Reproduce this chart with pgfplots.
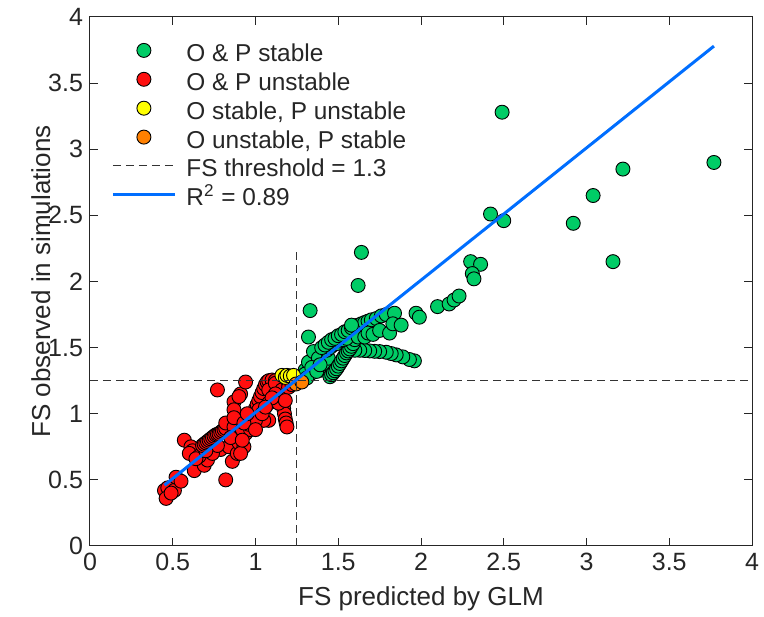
\documentclass[border=0pt]{standalone}
\usepackage{pgfplots}
\pgfplotsset{compat=1.18}
\usepackage{fontspec}
\setmainfont{Liberation Sans}

\definecolor{opstable}{RGB}{0,204,102}
\definecolor{opunst}{RGB}{255,15,15}
\definecolor{ostpun}{RGB}{255,255,0}
\definecolor{ounpst}{RGB}{255,128,0}
\definecolor{fitblue}{RGB}{0,110,255}
\definecolor{axgray}{RGB}{38,38,38}

\begin{document}
\begin{tikzpicture}
\begin{axis}[
    scale only axis,
    width=331pt, height=264.5pt,
    xmin=0, xmax=4, ymin=0, ymax=4,
    xtick={0,0.5,...,4}, ytick={0,0.5,...,4},
    tick align=inside,
    major tick length=4pt,
    axis line style={axgray, line width=0.5pt},
    tick style={axgray, line width=0.5pt},
    /pgf/number format/assume math mode=true,
    ticklabel style={font=\fontsize{12.5}{14}\selectfont, text=axgray},
    label style={font=\fontsize{13}{15}\selectfont, text=axgray},
    xlabel={FS predicted by GLM},
    xlabel style={yshift=-1pt},
    ylabel={FS observed in simulations},
    ylabel style={yshift=-8pt},
    legend cell align=left,
    legend image code/.code={\draw[mark repeat=2,mark phase=2] plot coordinates {(0pt,3.8pt)(15.5pt,3.8pt)(31pt,3.8pt)};},
    legend style={draw=none, fill=none, inner sep=0pt,
        at={(0,1)}, anchor=north west, xshift=10.5pt, yshift=-13pt,
        font=\fontsize{12.2}{14}\selectfont, text=axgray,
        row sep=0pt,
        nodes={inner sep=0pt, text height=9pt, text depth=5.3pt},
        /tikz/every odd column/.style={column sep=5pt}},
    clip marker paths=true,
]

% O & P stable
\addplot[only marks, mark=*, mark size=3.5pt,
    mark options={fill=opstable, draw=black, line width=0.45pt}]
coordinates {
(2.49,3.28) (3.77,2.90) (3.22,2.85) (3.04,2.65) (2.92,2.44) (3.16,2.15)
(2.42,2.51) (2.50,2.46) (2.30,2.15) (2.36,2.13) (2.31,2.06) (2.32,2.02)
(1.64,2.22) (1.62,1.97) (1.33,1.78) (1.32,1.58) (1.97,1.76) (1.99,1.73)
(2.10,1.81) (2.17,1.83) (2.20,1.86) (2.23,1.89)
(1.28,1.28) (1.30,1.33) (1.32,1.39) (1.35,1.47) (1.36,1.36) (1.40,1.33)
(1.33,1.30) (1.38,1.42) (1.30,1.30) (1.34,1.35) (1.31,1.27) (1.37,1.32)
(1.42,1.38) (1.44,1.42) (1.39,1.37)
(1.96,1.40) (1.93,1.41) (1.89,1.43) (1.85,1.445) (1.82,1.455) (1.79,1.465)
(1.75,1.47) (1.72,1.472) (1.69,1.475) (1.66,1.478) (1.63,1.48) (1.60,1.48)
(1.45,1.28) (1.46,1.295) (1.47,1.31) (1.48,1.325) (1.49,1.34) (1.50,1.36)
(1.51,1.38) (1.52,1.40) (1.53,1.42) (1.54,1.44) (1.55,1.46) (1.56,1.475)
(1.57,1.49) (1.58,1.51) (1.59,1.53) (1.60,1.56)
(1.43,1.48) (1.45,1.50) (1.47,1.52) (1.49,1.53) (1.51,1.55) (1.53,1.56) (1.55,1.57)
(1.40,1.50) (1.42,1.52) (1.44,1.54) (1.46,1.56) (1.48,1.57) (1.50,1.59)
(1.52,1.60) (1.54,1.62) (1.56,1.63) (1.58,1.65) (1.60,1.66) (1.62,1.67)
(1.64,1.68) (1.66,1.69) (1.68,1.70) (1.70,1.71) (1.73,1.72) (1.76,1.74)
(1.79,1.75) (1.84,1.76)
(1.58,1.67) (1.62,1.58) (1.66,1.58) (1.68,1.61) (1.71,1.60) (1.75,1.63)
(1.81,1.61) (1.83,1.68) (1.88,1.67)
};
\addlegendentry{O \& P stable}

% O & P unstable
\addplot[only marks, mark=*, mark size=3.5pt,
    mark options={fill=opunst, draw=black, line width=0.45pt}]
coordinates {
(0.45,0.42) (0.47,0.44) (0.51,0.42) (0.46,0.36) (0.52,0.52) (0.55,0.49) (0.49,0.40)
(0.57,0.80) (0.61,0.75) (0.62,0.72) (0.60,0.70) (0.63,0.57) (0.69,0.61)
(0.71,0.65) (0.82,0.50) (0.86,0.64) (0.79,0.73) (0.84,0.75) (0.89,0.70)
(0.66,0.68) (0.74,0.70) (0.77,0.76) (0.64,0.66) (0.70,0.72)
(0.68,0.76) (0.69,0.77) (0.70,0.78) (0.71,0.79) (0.72,0.80) (0.73,0.81)
(0.74,0.82) (0.75,0.83) (0.76,0.84) (0.77,0.845) (0.78,0.85) (0.79,0.86)
(0.80,0.87) (0.81,0.88) (0.82,0.89)
(0.82,0.93) (0.87,0.90) (0.94,0.85) (0.90,0.78) (0.96,0.95) (0.87,1.09)
(0.87,1.03) (0.87,0.97) (0.91,1.15) (0.90,1.13) (0.94,1.24) (0.77,1.18)
(0.92,0.88) (0.85,0.82) (0.93,0.75) (0.91,0.70) (0.97,0.88) (0.92,0.80)
(1.02,0.98) (1.08,0.95)
(0.96,0.92) (0.97,0.95) (0.98,0.98) (0.99,1.01) (1.00,1.04) (1.01,1.07)
(1.02,1.10) (1.03,1.13) (1.04,1.16) (1.05,1.19) (1.06,1.22) (1.07,1.24)
(1.08,1.25) (1.10,1.255) (1.12,1.25)
(1.13,1.22) (1.14,1.19) (1.15,1.16) (1.16,1.12) (1.165,1.08) (1.17,1.04)
(1.175,1.00) (1.18,0.96) (1.185,0.93) (1.19,0.90)
(1.08,1.18) (1.12,1.23) (1.16,1.18) (1.20,1.23) (1.02,1.03) (1.05,0.95)
(1.00,0.95) (1.08,1.08) (1.12,1.15) (1.14,1.08) (1.20,1.20) (1.22,1.22)
(1.18,1.10) (1.10,1.12) (1.04,1.00) (0.93,0.93) (0.95,1.00) (1.00,0.88)
(1.06,1.05)
};
\addlegendentry{O \& P unstable}

% O stable, P unstable
\addplot[only marks, mark=*, mark size=3.5pt,
    mark options={fill=ostpun, draw=black, line width=0.45pt}]
coordinates {
(1.16,1.29) (1.18,1.275) (1.19,1.29) (1.21,1.285) (1.23,1.29)
};
\addlegendentry{O stable, P unstable}

% O unstable, P stable
\addplot[only marks, mark=*, mark size=3.5pt,
    mark options={fill=ounpst, draw=black, line width=0.45pt}]
coordinates {
(1.245,1.225) (1.28,1.24)
};
\addlegendentry{O unstable, P stable}

% threshold lines
\addplot[black!80, line width=0.6pt, dash pattern=on 4pt off 2.5pt]
coordinates {(0,1.25) (4,1.25)};
\addlegendentry{FS threshold = 1.3}
\addplot[black!80, line width=0.6pt, dash pattern=on 4pt off 2.5pt, forget plot]
coordinates {(1.25,0) (1.25,2.23)};

% fit
\addplot[fitblue, line width=1.5pt]
coordinates {(0.45,0.46) (3.77,3.78)};
\addlegendentry{R\textsuperscript{2} = 0.89}

\end{axis}
\pgfresetboundingbox
\path[use as bounding box] ([shift={(-45pt,-35.5pt)}]current axis.south west)
    rectangle ([shift={(6pt,8.5pt)}]current axis.north east);
\end{tikzpicture}
\end{document}
